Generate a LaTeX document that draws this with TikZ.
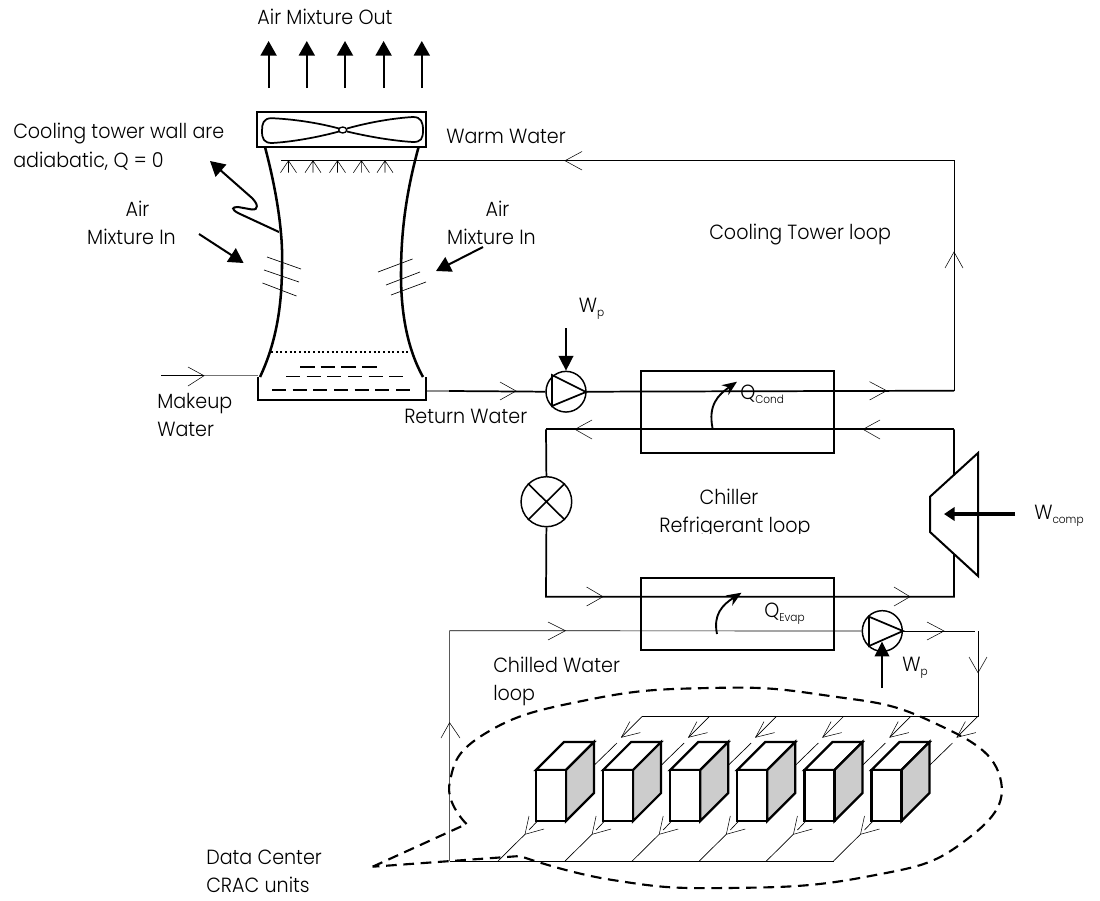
\documentclass[tikz,border=0pt]{standalone}
\usepackage{fontspec}
\setmainfont{Poppins}[UprightFont=* Light,FakeStretch=0.93]
\usetikzlibrary{arrows.meta,shapes.geometric}
\newcommand{\subs}[1]{\raisebox{-3.2pt}{\fontsize{8.5}{9}\selectfont #1}}
\tikzset{
  x=.75pt,y=-.75pt,
  lab/.style={font=\fontsize{15.4}{18}\selectfont,inner sep=0pt,anchor=base},
  labl/.style={lab,anchor=base west},
  pipe/.style={line width=1.3pt},
  thinpipe/.style={line width=.5pt},
  chev/.style={line width=.4pt},
  wall/.style={line width=1.9pt},
  boxline/.style={line width=1.5pt},
  hx/.style={line width=1.2pt},
  bigarrow/.style={line width=1.5pt,-{Triangle[length=11pt,width=12pt]}},
  pumpnode/.style={ellipse,draw,line width=1.1pt,minimum width=30pt,minimum height=30.5pt,inner sep=0pt,fill=white},
  valvenode/.style={ellipse,draw,line width=1.1pt,minimum width=38pt,minimum height=37.5pt,inner sep=0pt,fill=white},
  blob/.style={dash pattern=on 8pt off 5pt,line width=1.6pt},
  unitline/.style={line width=1.7pt,line join=miter},
}
\newcommand{\unitbox}[1]{%
  \begin{scope}[xshift=#1*.75pt]
    \draw[unitline,fill=white] (536,770)--(564,742)--(594,742)--(566,770)--cycle;
    \draw[unitline,fill=black!20] (566,770)--(594,742)--(594,793)--(566,821)--cycle;
    \draw[unitline,fill=white] (536,770) rectangle (566,821);
  \end{scope}}
\newcommand{\upbranch}[1]{%
  \begin{scope}[xshift=#1*.75pt]
    \draw[thinpipe] (642,716.7)--(621.4,737.3) (617,743)--(594.4,765);
    \draw[chev] (629.8,721.6)--(621.4,737.3)--(640.4,732.6);
  \end{scope}}
\newcommand{\lowbranch}[1]{%
  \begin{scope}[xshift=#1*.75pt]
    \draw[thinpipe] (498,861)--(525,834.3) (529,830)--(545,813);
    \draw[chev] (529,816)--(525,834.3)--(544,829);
  \end{scope}}
\begin{document}
\begin{tikzpicture}
\useasboundingbox (0,0) rectangle (1100,900);
% fixed points
\coordinate (warmL) at (281,160.7);
\coordinate (warmC) at (954,160.7);
\coordinate (condC) at (954,390.7);
\coordinate (refTL) at (546,429.3);
\coordinate (refTR) at (954,429.3);
\coordinate (refBL) at (546,596.7);
\coordinate (refBR) at (954,596.7);
\coordinate (chwTL) at (449.6,630.7);
\coordinate (chwBL) at (449.6,861);
\coordinate (chwBR) at (834.3,861);
\coordinate (chwTR) at (978,631);
\coordinate (hdrL) at (642,716.7);
\coordinate (hdrR) at (978,716.7);
\coordinate (mkL) at (161,375.7);
\coordinate (mkM) at (204,375.7);
\coordinate (mkR) at (257.5,375.7);
\coordinate (retL) at (427,391);
\coordinate (retM) at (449,391);
% air out arrows
\foreach \X/\N in {268.6/a,306.8/b,345/c,383.6/d,421.8/e}{
  \coordinate (out\N s) at (\X,88);
  \coordinate (out\N t) at (\X,41);
  \draw[bigarrow] (out\N s)--(out\N t);
}
\node[lab] (airout) at (325,24) {Air Mixture Out};
% fan
\draw[boxline] (257,112) rectangle (426,147);
\draw[line width=1.3pt] (339,128.5) .. controls (315,122) and (290,119) .. (272,118.2) .. controls (263,118) and (262,124) .. (262,131) .. controls (262,139) and (264,143) .. (272,143) .. controls (290,142) and (315,138) .. (339,131.5);
\draw[line width=1.3pt] (347,128.5) .. controls (370,122) and (395,118) .. (413,117) .. controls (421,117) and (423,122) .. (423,130) .. controls (423,139) and (421,142) .. (413,142) .. controls (395,141) and (370,137) .. (347,131.5);
\node[ellipse,draw,line width=1pt,fill=white,minimum width=6pt,minimum height=4.5pt,inner sep=0pt] (hub) at (342.7,130) {};
% tower walls
\draw[wall] (265,147) .. controls (279,200) and (283,240) .. (282,265) .. controls (282,310) and (275,345) .. (260,377);
\draw[wall] (418.6,147) .. controls (404,200) and (401,240) .. (401,275) .. controls (401,315) and (408,350) .. (423,377);
% basin
\draw[boxline] (257.7,377)--(257.7,400)--(426,400)--(426,377);
\draw[line width=1.5pt,dotted] (271,352)--(414,352);
\draw[line width=1.2pt,dash pattern=on 11pt off 4.5pt] (300,367)--(382,367);
\draw[line width=1.2pt,dash pattern=on 10.5pt off 5pt] (286,376.3)--(407,376.3);
\draw[line width=1.2pt,dash pattern=on 10.5pt off 5pt] (272,390)--(413,390);
% warm water
\draw[thinpipe] (warmL)--(warmC)--(condC);
\foreach \X in {288.5,313,337.5,361.4,385}{
  \draw[chev] (\X-8,172.7)--(\X,160.7)--(\X+8,172.7) (\X,160.7)--(\X,172.7);
}
\draw[chev] (582,151.5)--(565,160.7)--(582,170);
\draw[chev] (945,268)--(954,252)--(963,268);
% wall arrow
\draw[line width=1.5pt,-{Triangle[length=11pt,width=12pt]}] (279,232)--(238,213) .. controls (231,209) and (232,207) .. (238,207) -- (252,209.5) .. controls (259,210) and (258,204) .. (252,198)--(210,161);
% air in arrows
\coordinate (ails) at (199,234); \coordinate (ailt) at (243.6,263);
\coordinate (airs) at (483,247); \coordinate (airt) at (436,271);
\draw[bigarrow] (ails)--(ailt);
\draw[bigarrow] (airs)--(airt);
\draw[thinpipe] (267,257)--(301,269) (264,270)--(299,282) (262.5,283)--(296.4,296);
\draw[thinpipe] (378,272)--(412.5,259) (386,285)--(420,272) (391,295)--(426,282);
% labels tower
\node[labl] (ct1) at (13,138) {Cooling tower wall are};
\node[labl] (ct2) at (13,167) {adiabatic, Q = 0};
\node[lab] (air1) at (137.5,216) {Air};
\node[lab] (mix1) at (131.5,244) {Mixture In};
\node[lab] (air2) at (497.5,216) {Air};
\node[lab] (mix2) at (491.5,244) {Mixture In};
\node[labl] (warm) at (446,143) {Warm Water};
\node[labl] (ctl) at (709,239) {Cooling Tower loop};
\node[labl] (mk1) at (157,408) {Makeup};
\node[labl] (mk2) at (157,436) {Water};
\node[labl] (ret) at (404,423) {Return Water};
% makeup
\draw[thinpipe] (mkL)--(mkM);
\draw[thinpipe,black!55] (mkM)--(mkR);
\draw[chev] (188,367)--(204,375.7)--(188,386);
% return
\node[pumpnode] (pump1) at (566,391.7) {};
\draw[line width=.9pt,black!45] (retL)--(retM);
\draw[pipe] (retM)--(pump1.west);
\draw[chev] (500,382)--(516,391)--(500,400);
\draw[pipe] (552,375)--(586,392)--(552,406)--cycle;
\draw[pipe] (pump1.east)--(condC);
\draw[chev] (869.6,381.7)--(886.6,390.7)--(869.6,400);
\coordinate (wp1s) at (566,328);
\draw[line width=1.1pt,-{Triangle[length=11pt,width=11pt]}] (wp1s)--(pump1.north);
\node[labl] (wp1) at (578.6,312) {W\subs{p}};
% condenser
\draw[hx] (641,370.7) rectangle (834,453);
\draw[pipe] (refTL)--(refTR);
\draw[chev] (592,420)--(575,429.3)--(592,439);
\draw[chev] (880,420)--(863,429.3)--(880,439);
\draw[line width=1.4pt,-{Stealth[length=11pt,width=9pt]}] (712.5,428) .. controls (708,405) and (718,395) .. (737,381.7);
\node[labl] (qc) at (740,399) {Q\subs{Cond}};
% refrigerant loop
\node[valvenode] (valve) at (546.4,501.7) {};
\draw[hx] (valve.north west)--(valve.south east) (valve.north east)--(valve.south west);
\draw[pipe] (refTL)--(valve.north);
\draw[pipe] (valve.south)--(refBL)--(refBR)--(refTR);
\draw[chev] (586.6,587)--(603,596.7)--(586.6,606);
\draw[chev] (894,587)--(910,596.7)--(894,606);
% compressor
\draw[boxline,fill=white] (978,453)--(930,496.7)--(930,532)--(978,576)--cycle;
\coordinate (wcs) at (1015,514); \coordinate (wct) at (944,514);
\draw[line width=2.4pt,-{Triangle[length=8pt,width=10pt]}] (wcs)--(wct);
\node[labl] (wc) at (1034,519) {W\subs{comp}};
\node[lab] (ch) at (729,504) {Chiller};
\begin{scope}
\clip (600,505) rectangle (880,533);
\node[lab] (rf) at (735,532) {Refrigerant loop};
\end{scope}
% evaporator
\draw[hx] (641,578) rectangle (834,650);
\draw[line width=1.4pt,-{Stealth[length=11pt,width=9pt]}] (717,634) .. controls (713,615) and (722,605) .. (741.5,592.7);
\node[labl] (qe) at (764,617) {Q\subs{Evap}};
% chilled water
\node[pumpnode] (pump2) at (882.3,631) {};
\draw[thinpipe] (chwBL)--(chwTL)--(pump2.west);
\draw[chev] (548,622)--(565.4,630.7)--(548,640);
\draw[pipe] (869,616.7)--(903,631)--(869,646)--cycle;
\draw[thinpipe] (pump2.east)--(974.5,631);
\draw[chev] (927,622)--(944,631)--(927,640);
\draw[thinpipe] (chwTR)--(hdrR)--(hdrL);
\draw[chev] (969,657)--(978,672.7)--(987,657);
\draw[chev] (441,738)--(449.6,722.7)--(460,738);
\draw[line width=1.1pt,-{Triangle[length=11pt,width=11pt]}] (882,688)--(882,641.7);
\node[labl] (wp2) at (902,671) {W\subs{p}};
\node[labl] (cw1) at (493,672) {Chilled Water};
\node[labl] (cw2) at (493,700) {loop};
% header bottom
\draw[thinpipe] (chwBL)--(chwBR);
% branches
\foreach \I in {0,1,2,3,4,5}{
  \pgfmathsetmacro{\S}{67.1*\I}
  \upbranch{\S}
  \lowbranch{\S}
}
\foreach \I in {0,1,2,3,4,5}{
  \pgfmathsetmacro{\S}{67.1*\I}
  \unitbox{\S}
}
% callout
\draw[blob] (372.6,866.7)--(466.5,824) plot[smooth,tension=.8] coordinates {(466.5,824)(449.6,783)(486,733)(587,700)(709,688)(823,695)(928,720)(1000,777)(962,843)(865,877)(726,888)(612.5,880)(520,856)}--(372.6,866.7);
\node[labl] (dc1) at (206,864) {Data Center};
\node[labl] (dc2) at (206,892) {CRAC units};
\end{tikzpicture}
\end{document}
